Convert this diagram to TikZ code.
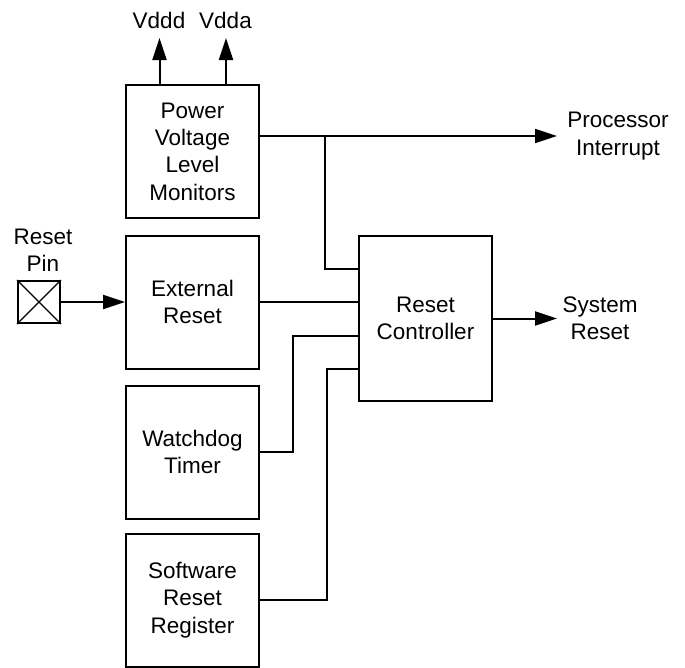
\documentclass[tikz,border=0pt]{standalone}
\usepackage{fontspec}
\setmainfont{Liberation Sans}
\usetikzlibrary{arrows.meta}

\begin{document}
\begin{tikzpicture}[
    x=1pt, y=-1pt,
    block/.style={
      rectangle, draw, line width=2pt,
      minimum width=133pt, minimum height=#1,
      align=center, inner sep=0pt,
      font=\fontsize{22.5}{27.3}\selectfont
    },
    block/.default=133pt,
    lbl/.style={align=center, inner sep=0pt, font=\fontsize{22.5}{27.3}\selectfont},
    wire/.style={line width=2pt},
    >={Triangle[length=22pt,width=14pt]}
  ]
  \useasboundingbox (0,0) rectangle (685,667);

  %% ===== source blocks (left column) =====
  \node[block] (pvlm)   at (192.5,151.5) {Power\\Voltage\\Level\\Monitors};
  \node[block] (extrst) at (192.5,302)   {External\\Reset};
  \node[block] (wdt)    at (192.5,452)   {Watchdog\\Timer};
  \node[block] (swrst)  at (192.5,600)   {Software\\Reset\\Register};

  %% ===== controller =====
  \node[block=165pt] (rstctl) at (425.5,318.5) {Reset\\Controller};

  %% --- reset pin ---
  \node[draw, line width=2pt, minimum size=42pt, inner sep=0pt] (pin) at (39,302) {};
  \draw[line width=1.4pt] (pin.north west) -- (pin.south east);
  \draw[line width=1.4pt] (pin.south west) -- (pin.north east);
  \node[lbl] (pinlbl) at (43,250) {Reset\\Pin};

  %% --- supply outputs ---
  \coordinate (vddd) at (159.5,38);
  \coordinate (vdda) at (226,38);
  \node[lbl] (vdddlbl) at (159,20)   {Vddd};
  \node[lbl] (vddalbl) at (225.5,20) {Vdda};
  \draw[wire,->] (vddd |- pvlm.north) -- (vddd);
  \draw[wire,->] (vdda |- pvlm.north) -- (vdda);

  %% --- interrupt output ---
  \coordinate (tap)  at (325,136);
  \coordinate (pint) at (557,136);
  \node[lbl] (pintlbl) at (618,136) {Processor\\Interrupt};
  \draw[wire,->] ([yshift=15.5pt]pvlm.east) -- (pint);
  \draw[wire] (tap) |- ([yshift=49.5pt]rstctl.west);

  %% --- controller inputs ---
  \draw[wire,->] (pin.east) -- (extrst.west);
  \draw[wire] (extrst.east) -- (extrst.east -| rstctl.west);
  \draw[wire] (wdt.east) -- ++(33,0) |- ([yshift=-17.5pt]rstctl.west);
  \draw[wire] (swrst.east) -- ++(67,0) |- ([yshift=-50.5pt]rstctl.west);

  %% --- system reset output ---
  \coordinate (sysrst) at (557,318.5);
  \node[lbl] (sysrstlbl) at (600,318) {System\\Reset};
  \draw[wire,->] (rstctl.east) -- (sysrst);
\end{tikzpicture}
\end{document}
